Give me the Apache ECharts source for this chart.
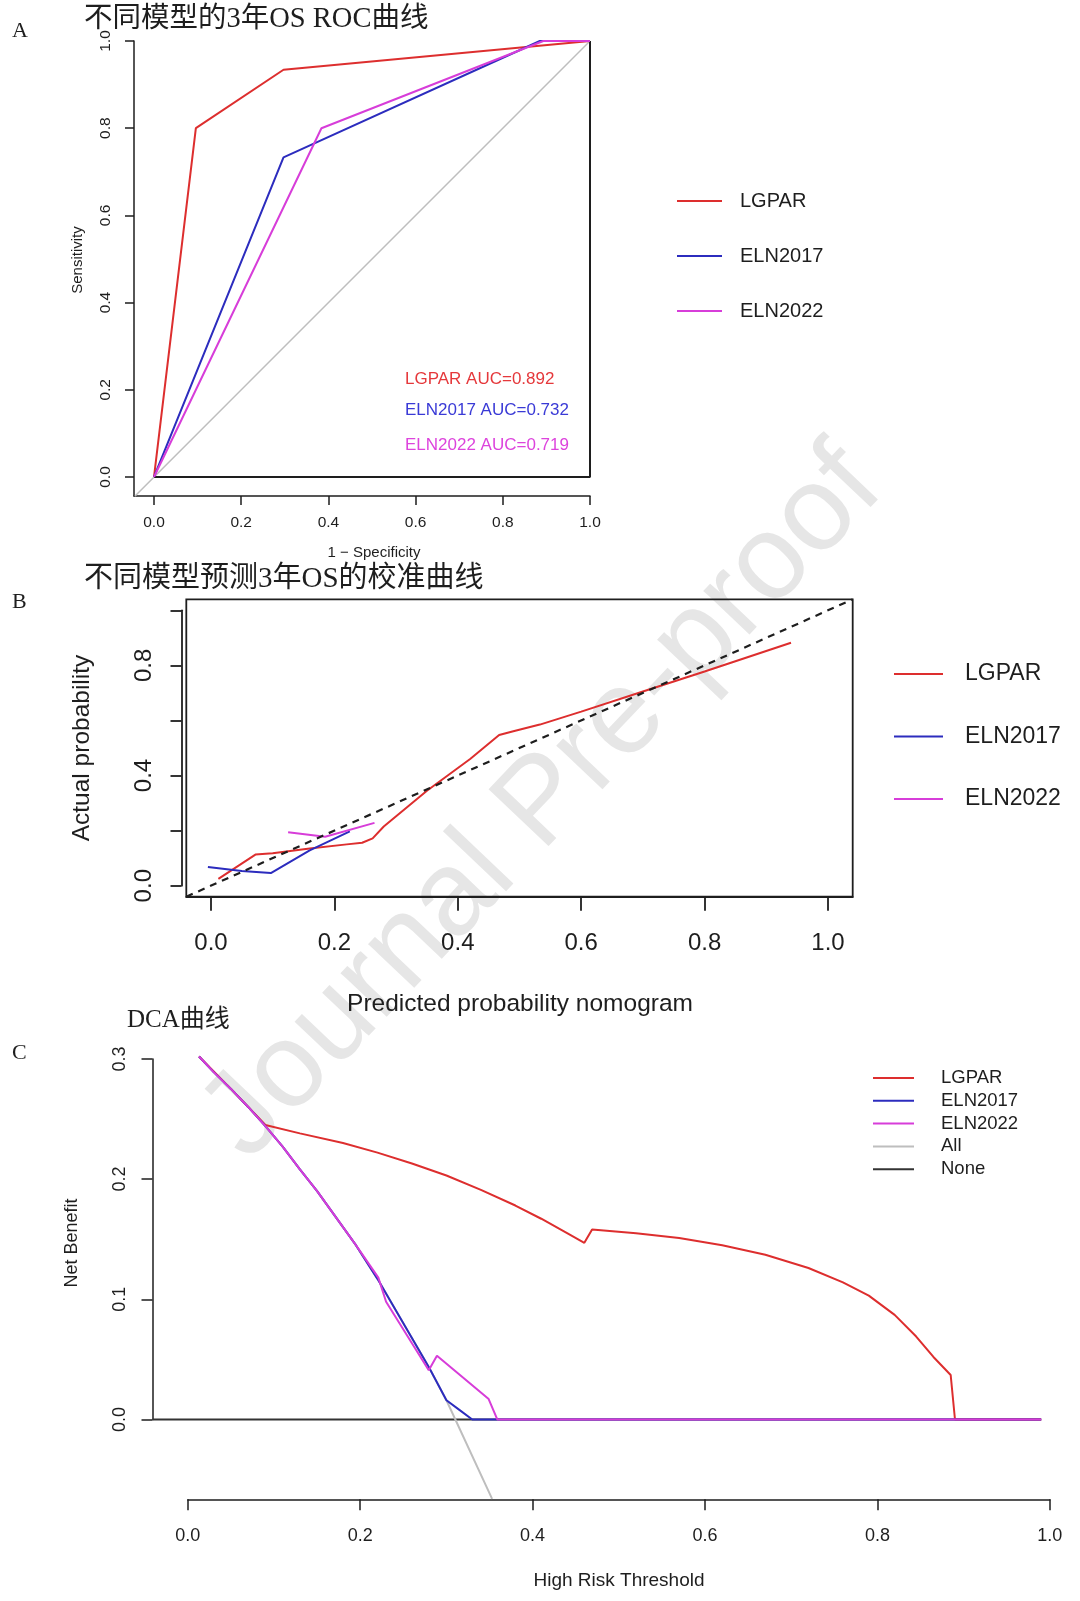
<!DOCTYPE html>
<html><head><meta charset="utf-8">
<script src="https://cdn.jsdelivr.net/npm/echarts@6/dist/echarts.min.js"></script>
<style>html,body{margin:0;padding:0;background:#fff}#c{width:1080px;height:1601px}</style>
</head><body><div id="c"></div>
<script>
// ---------- Panel A: ROC ----------
const rocTicks = [0, 0.2, 0.4, 0.6, 0.8, 1.0];
const rocDiagonal = [[-0.044, -0.044], [1, 1]];
const rocFrame = [[0, 0], [1, 0], [1, 1]];
const rocLGPAR = [[0, 0], [0.096, 0.80], [0.297, 0.934], [1, 1]];
const rocELN2017 = [[0, 0], [0.297, 0.733], [0.885, 1.0], [1, 1]];
const rocELN2022 = [[0, 0], [0.384, 0.80], [0.893, 1.0], [1, 1]];
const aucLabels = ['LGPAR AUC=0.892', 'ELN2017 AUC=0.732', 'ELN2022 AUC=0.719'];

// ---------- Panel B: calibration ----------
const calTicksX = [0, 0.2, 0.4, 0.6, 0.8, 1.0];
const calLabelsY = [0, 0.4, 0.8];
const calIdeal = [[-0.04, -0.04], [1.04, 1.04]];
const calLGPAR = [[0.012, 0.025], [0.072, 0.113], [0.10, 0.118], [0.16, 0.135], [0.22, 0.150], [0.245, 0.156], [0.262, 0.172], [0.28, 0.215], [0.35, 0.345], [0.42, 0.46], [0.467, 0.547], [0.49, 0.561], [0.533, 0.585], [0.60, 0.632], [0.70, 0.705], [0.80, 0.778], [0.94, 0.882]];
const calELN2017 = [[-0.005, 0.068], [0.05, 0.053], [0.097, 0.046], [0.16, 0.128], [0.225, 0.197]];
const calELN2022 = [[0.125, 0.194], [0.185, 0.178], [0.265, 0.228]];

// ---------- Panel C: DCA ----------
const dcaTicksX = [0, 0.2, 0.4, 0.6, 0.8, 1.0];
const dcaTicksY = [0, 0.1, 0.2, 0.3];
const dcaNone = [[-0.041, 0], [0.99, 0]];
const dcaAll = [[0.013, 0.302], [0.03, 0.289], [0.05, 0.275], [0.07, 0.260], [0.09, 0.244], [0.11, 0.227], [0.13, 0.208], [0.15, 0.190], [0.17, 0.170], [0.195, 0.145], [0.22, 0.117], [0.25, 0.080], [0.28, 0.043], [0.30, 0.016], [0.353, -0.066]];
const dcaLGPAR = [[0.013, 0.302], [0.05, 0.275], [0.09, 0.245], [0.13, 0.238], [0.18, 0.230], [0.22, 0.222], [0.26, 0.213], [0.30, 0.203], [0.34, 0.191], [0.38, 0.178], [0.41, 0.167], [0.44, 0.155], [0.46, 0.147], [0.469, 0.158], [0.52, 0.155], [0.57, 0.151], [0.62, 0.145], [0.67, 0.137], [0.72, 0.126], [0.76, 0.114], [0.79, 0.103], [0.82, 0.087], [0.845, 0.069], [0.865, 0.052], [0.885, 0.037], [0.89, 0], [0.99, 0]];
const dcaELN2017 = [[0.013, 0.302], [0.03, 0.289], [0.05, 0.275], [0.07, 0.260], [0.09, 0.244], [0.11, 0.227], [0.13, 0.208], [0.15, 0.190], [0.17, 0.170], [0.195, 0.145], [0.22, 0.117], [0.25, 0.080], [0.28, 0.043], [0.30, 0.016], [0.315, 0.008], [0.33, 0], [0.99, 0]];
const dcaELN2022 = [[0.013, 0.302], [0.03, 0.289], [0.05, 0.275], [0.07, 0.260], [0.09, 0.244], [0.11, 0.227], [0.13, 0.208], [0.15, 0.190], [0.17, 0.170], [0.195, 0.145], [0.221, 0.118], [0.23, 0.098], [0.2795, 0.041], [0.289, 0.053], [0.349, 0.017], [0.359, 0], [0.99, 0]];

const modelNames = ['LGPAR', 'ELN2017', 'ELN2022'];

const SANS = '"Liberation Sans", Arial, sans-serif';
const SERIF = '"Liberation Serif", "Noto Sans CJK SC", serif';
const cRed = '#DD2E2E', cBlue = '#2C2CBE', cMag = '#D73DD9', cGray = '#BEBEBE', cInk = '#1e1e1e';
const fmt1 = v => Number(v).toFixed(1);

function hiddenAxis(gi, min, max) {
  return { gridIndex: gi, type: 'value', min: min, max: max, show: false, splitLine: { show: false } };
}
function shownAxis(gi, min, max, o) {
  return {
    gridIndex: gi, type: 'value', min: min, max: max, interval: o.interval,
    axisLine: { show: true, onZero: false, lineStyle: { color: cInk, width: o.lw || 1.5 } },
    axisTick: { show: true, inside: false, length: o.tickLen, customValues: o.ticks, lineStyle: { color: cInk, width: o.lw || 1.5 } },
    axisLabel: { show: true, customValues: o.labels, formatter: fmt1, fontSize: o.fs, fontFamily: SANS, color: cInk, margin: o.margin, rotate: o.rotate || 0 },
    splitLine: { show: false }
  };
}
function line(name, data, color, xi, yi, extra) {
  return Object.assign({
    name: name, type: 'line', data: data, xAxisIndex: xi, yAxisIndex: yi,
    symbol: 'none', showSymbol: false, silent: true, color: color,
    lineStyle: { color: color, width: 2 }, z: 3
  }, extra || {});
}

const option = {
  animation: false,
  backgroundColor: '#ffffff',
  grid: [
    { left: 134, top: 41, width: 456, height: 455 },                    // 0 A
    { left: 186.3, top: 599.3, width: 666.4, height: 297.4, show: true, borderColor: cInk, borderWidth: 1.8, backgroundColor: 'transparent' }, // 1 B
    { left: 181.5, top: 610.3, width: 10, height: 275.4 },             // 2 B y-axis
    { left: 152.5, top: 1040, width: 897.3, height: 459.3 },           // 3 C data
    { left: 187.8, top: 1490, width: 862, height: 9.3 },               // 4 C x-axis
    { left: 152.5, top: 1058.9, width: 10, height: 360.6 }             // 5 C y-axis
  ],
  xAxis: [
    shownAxis(0, -0.0459, 1, { ticks: rocTicks, labels: rocTicks, tickLen: 9, fs: 15.5, margin: 19 }),
    shownAxis(1, -0.04, 1.04, { ticks: calTicksX, labels: calTicksX, tickLen: 14, fs: 24, margin: 35, lw: 1.8 }),
    hiddenAxis(2, 0, 1),
    hiddenAxis(3, -0.041, 1),
    shownAxis(4, 0, 1, { interval: 0.2, ticks: dcaTicksX, labels: dcaTicksX, tickLen: 11, fs: 18, margin: 28 }),
    hiddenAxis(5, 0, 1)
  ],
  yAxis: [
    shownAxis(0, -0.0436, 1, { ticks: rocTicks, labels: rocTicks, tickLen: 9, fs: 15.5, margin: 20, rotate: 90 }),
    hiddenAxis(1, -0.04, 1.04),
    shownAxis(2, 0, 1, { interval: 0.2, ticks: calTicksX, labels: calLabelsY, tickLen: 11, fs: 24, margin: 25, rotate: 90, lw: 1.8 }),
    hiddenAxis(3, -0.0664, 0.3157),
    hiddenAxis(4, 0, 1),
    shownAxis(5, 0, 0.3, { interval: 0.1, ticks: dcaTicksY, labels: dcaTicksY, tickLen: 11, fs: 18, margin: 23, rotate: 90 })
  ],
  legend: [
    { orient: 'vertical', left: 677, top: 189, padding: 0, icon: 'rect', itemWidth: 45, itemHeight: 2, itemGap: 31,
      data: modelNames, selectedMode: false,
      textStyle: { fontSize: 20, lineHeight: 24, fontFamily: SANS, color: cInk, padding: [0, 0, 0, 13] } },
    { orient: 'vertical', left: 894, top: 660, padding: 0, icon: 'rect', itemWidth: 49, itemHeight: 2, itemGap: 34.5,
      data: modelNames, selectedMode: false,
      textStyle: { fontSize: 23, lineHeight: 28, fontFamily: SANS, color: cInk, padding: [0, 0, 0, 17] } },
    { orient: 'vertical', left: 873, top: 1068, padding: 0, icon: 'rect', itemWidth: 41, itemHeight: 2, itemGap: 2.8,
      data: modelNames.concat(['All', 'None']), selectedMode: false,
      textStyle: { fontSize: 18.5, lineHeight: 20, fontFamily: SANS, color: cInk, padding: [0, 0, 0, 22] } }
  ],
  series: [
    // A
    line('diagA', rocDiagonal, cGray, 0, 0, { lineStyle: { color: cGray, width: 1.5 }, z: 2 }),
    line('frameA', rocFrame, cInk, 0, 0, { z: 2 }),
    line('LGPAR', rocLGPAR, cRed, 0, 0),
    line('ELN2017', rocELN2017, cBlue, 0, 0),
    line('ELN2022', rocELN2022, cMag, 0, 0),
    // B
    line('idealB', calIdeal, cInk, 1, 1, { lineStyle: { color: cInk, width: 2.2, type: [7, 6] }, z: 4 }),
    line('LGPAR', calLGPAR, cRed, 1, 1),
    line('ELN2017', calELN2017, cBlue, 1, 1),
    line('ELN2022', calELN2022, cMag, 1, 1),
    // C
    line('None', dcaNone, '#333333', 3, 3),
    line('All', dcaAll, cGray, 3, 3),
    line('LGPAR', dcaLGPAR, cRed, 3, 3),
    line('ELN2017', dcaELN2017, cBlue, 3, 3),
    line('ELN2022', dcaELN2022, cMag, 3, 3)
  ],
  graphic: [
    { type: 'text', x: 543, y: 804, rotation: 46.5 * Math.PI / 180, z: -10, silent: true,
      style: { text: 'Journal Pre-proof', fill: '#e6e6e6', font: '120px ' + SANS, textAlign: 'center', textVerticalAlign: 'middle' } },
    { type: 'text', x: 12, y: 31, style: { text: 'A', fill: cInk, font: '22px ' + SERIF, textAlign: 'left', textVerticalAlign: 'middle' } },
    { type: 'text', x: 12, y: 602, style: { text: 'B', fill: cInk, font: '22px ' + SERIF, textAlign: 'left', textVerticalAlign: 'middle' } },
    { type: 'text', x: 12, y: 1053, style: { text: 'C', fill: cInk, font: '22px ' + SERIF, textAlign: 'left', textVerticalAlign: 'middle' } },
    { type: 'text', x: 84, y: 20, style: { text: '不同模型的3年OS ROC曲线', fill: cInk, font: '28.5px ' + SERIF, textAlign: 'left', textVerticalAlign: 'middle' } },
    { type: 'text', x: 84, y: 579, style: { text: '不同模型预测3年OS的校准曲线', fill: cInk, font: '29px ' + SERIF, textAlign: 'left', textVerticalAlign: 'middle' } },
    { type: 'text', x: 127, y: 1020, style: { text: 'DCA曲线', fill: cInk, font: '25px ' + SERIF, textAlign: 'left', textVerticalAlign: 'middle' } },
    { type: 'text', x: 78, y: 260, rotation: Math.PI / 2, style: { text: 'Sensitivity', fill: cInk, font: '15px ' + SANS, textAlign: 'center', textVerticalAlign: 'middle' } },
    { type: 'text', x: 374, y: 553, style: { text: '1 − Specificity', fill: cInk, font: '15px ' + SANS, textAlign: 'center', textVerticalAlign: 'middle' } },
    { type: 'text', x: 405, y: 379, style: { text: aucLabels[0], fill: '#E5383B', font: '17px ' + SANS, textAlign: 'left', textVerticalAlign: 'middle' } },
    { type: 'text', x: 405, y: 410, style: { text: aucLabels[1], fill: '#3A3AD6', font: '17px ' + SANS, textAlign: 'left', textVerticalAlign: 'middle' } },
    { type: 'text', x: 405, y: 445, style: { text: aucLabels[2], fill: '#DD44DD', font: '17px ' + SANS, textAlign: 'left', textVerticalAlign: 'middle' } },
    { type: 'text', x: 82, y: 748, rotation: Math.PI / 2, style: { text: 'Actual probability', fill: cInk, font: '24.5px ' + SANS, textAlign: 'center', textVerticalAlign: 'middle' } },
    { type: 'text', x: 520, y: 1004, style: { text: 'Predicted probability nomogram', fill: cInk, font: '24.5px ' + SANS, textAlign: 'center', textVerticalAlign: 'middle' } },
    { type: 'text', x: 72, y: 1243, rotation: Math.PI / 2, style: { text: 'Net Benefit', fill: cInk, font: '18px ' + SANS, textAlign: 'center', textVerticalAlign: 'middle' } },
    { type: 'text', x: 619, y: 1581, style: { text: 'High Risk Threshold', fill: cInk, font: '19px ' + SANS, textAlign: 'center', textVerticalAlign: 'middle' } }
  ]
};

const chart = echarts.init(document.getElementById('c'), null, { renderer: 'canvas' });
chart.setOption(option);
</script>
</body></html>
